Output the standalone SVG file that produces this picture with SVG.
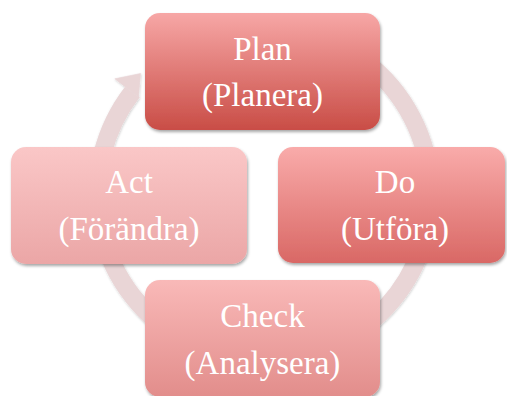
<svg xmlns="http://www.w3.org/2000/svg" width="507" height="396" viewBox="0 0 507 396">
  <style>
    .lbl { font-family: "Liberation Serif", "Times New Roman", serif; font-size: 33px; fill: #ffffff; text-anchor: middle; }
    .box { filter: url(#sh); }
    .ring { fill: none; stroke: #e9d5d6; stroke-width: 18; }
  </style>
  <defs>
    <filter id="sh" x="-10%" y="-10%" width="125%" height="130%">
      <feDropShadow dx="1" dy="2" stdDeviation="1.6" flood-color="#000000" flood-opacity="0.35"/>
    </filter>
    <filter id="rsh" x="-10%" y="-10%" width="125%" height="125%">
      <feDropShadow dx="0.5" dy="1" stdDeviation="0.8" flood-color="#000000" flood-opacity="0.2"/>
    </filter>
    <linearGradient id="gPlan" x1="0" y1="0" x2="0" y2="1">
      <stop offset="0" stop-color="#f7a7a6"/>
      <stop offset="1" stop-color="#c94d46"/>
    </linearGradient>
    <linearGradient id="gDo" x1="0" y1="0" x2="0" y2="1">
      <stop offset="0" stop-color="#f9abaa"/>
      <stop offset="1" stop-color="#d96865"/>
    </linearGradient>
    <linearGradient id="gCheck" x1="0" y1="0" x2="0" y2="1">
      <stop offset="0" stop-color="#f9b9b8"/>
      <stop offset="1" stop-color="#e28d8b"/>
    </linearGradient>
    <linearGradient id="gAct" x1="0" y1="0" x2="0" y2="1">
      <stop offset="0" stop-color="#fac7c7"/>
      <stop offset="1" stop-color="#eba6a6"/>
    </linearGradient>
  </defs>

  <g id="connectors" filter="url(#rsh)">
    <path class="ring" d="M 292.9 30 A 166.5 166.5 0 1 1 132.2 92.3"/>
    <polygon points="125.1,86.7 114.8,78.8 140.5,73.5 138.5,96 139.3,97.8" fill="#e9d5d6" stroke="#e9d5d6" stroke-width="0.6"/>
  </g>

  <g id="plan">
    <rect class="box" x="145" y="13" width="235" height="117" rx="15" fill="url(#gPlan)"/>
    <text class="lbl" x="262.5" y="60">Plan</text>
    <text class="lbl" x="262.5" y="106">(Planera)</text>
  </g>

  <g id="do">
    <rect class="box" x="278" y="147" width="227" height="116" rx="15" fill="url(#gDo)"/>
    <text class="lbl" x="395" y="193">Do</text>
    <text class="lbl" x="395" y="240">(Utföra)</text>
  </g>

  <g id="check">
    <rect class="box" x="145" y="280" width="235" height="117" rx="15" fill="url(#gCheck)"/>
    <text class="lbl" x="262.5" y="327">Check</text>
    <text class="lbl" x="262.5" y="374">(Analysera)</text>
  </g>

  <g id="act">
    <rect class="box" x="11" y="147" width="236" height="117" rx="15" fill="url(#gAct)"/>
    <text class="lbl" x="129" y="193">Act</text>
    <text class="lbl" x="129" y="240">(Förändra)</text>
  </g>
</svg>
